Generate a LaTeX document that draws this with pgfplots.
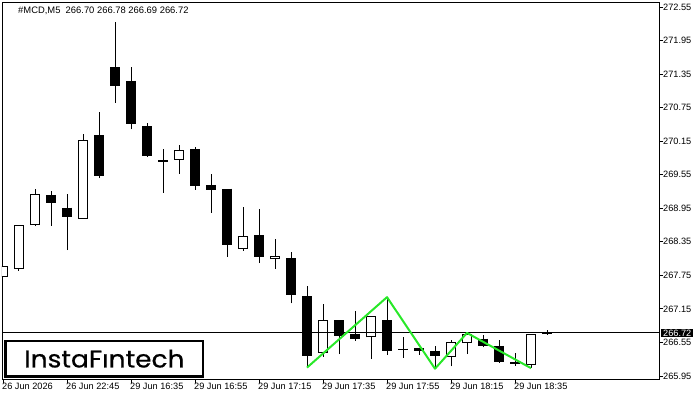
\documentclass[border=0pt]{standalone}
\usepackage{pgfplots}
\pgfplotsset{compat=1.18}
\usepackage{pgfplotstable}
\usepackage{fontspec}
\setmainfont{Liberation Sans}
\newfontfamily\logofont{Poppins}[FakeStretch=1.1, FakeBold=0.6]
\definecolor{patgreen}{RGB}{40,232,40}

\pgfplotstableread{
x o h l c
0 267.72 267.92 267.58 267.92
1 267.86 268.65 267.83 268.65
2 268.65 269.30 268.63 269.20
3 269.19 269.26 268.64 269.04
4 268.96 269.21 268.20 268.80
5 268.76 270.28 268.76 270.17
6 270.26 270.67 269.49 269.53
7 271.47 272.28 270.84 271.14
8 271.23 271.48 270.36 270.46
9 270.42 270.48 269.87 269.89
10 269.81 270.01 269.23 269.78
11 269.82 270.08 269.57 269.99
12 270.01 270.05 269.28 269.35
13 269.37 269.57 268.87 269.27
14 269.30 269.30 268.08 268.29
15 268.23 268.97 268.19 268.45
16 268.47 268.94 267.97 268.08
17 268.04 268.40 267.87 268.09
18 268.06 268.16 267.25 267.39
19 267.38 267.56 266.10 266.31
20 266.37 267.24 266.29 266.95
21 266.95 266.95 266.34 266.67
22 266.71 267.11 266.58 266.62
23 266.64 267.02 266.25 267.02
24 266.95 267.37 266.33 266.39
25 266.44 266.64 266.28 266.42
26 266.45 266.45 266.33 266.40
27 266.40 266.49 266.08 266.30
28 266.29 266.59 266.12 266.55
29 266.54 266.72 266.34 266.70
30 266.62 266.68 266.46 266.49
31 266.49 266.59 266.19 266.20
32 266.20 266.37 266.13 266.16
33 266.14 266.70 266.09 266.70
34 266.70 266.78 266.69 266.72
}\candles

\begin{document}
\begin{tikzpicture}
\begin{axis}[
  at={(2pt,21pt)}, anchor=south west,
  scale only axis, width=657pt, height=377pt,
  xmin=-0.0625, xmax=41, ymin=265.896, ymax=272.64,
  axis line style={line width=0.9pt},
  xtick={0,4,...,32},
  xticklabels={26 Jun 2026,26 Jun 22:45,29 Jun 16:35,29 Jun 16:55,29 Jun 17:15,29 Jun 17:35,29 Jun 17:55,29 Jun 18:15,29 Jun 18:35},
  ytick={265.95,266.55,267.15,267.75,268.35,268.95,269.55,270.15,270.75,271.35,271.95,272.55},
  yticklabels={265.95,266.55,267.15,267.75,268.35,268.95,269.55,270.15,270.75,271.35,271.95,272.55},
  xtick pos=bottom, ytick pos=right, yticklabel pos=right,
  tick align=outside, major tick length=4pt,
  tick style={black, line width=0.9pt},
  ticklabel style={font=\fontsize{9.2}{10}\selectfont},
  xticklabel style={anchor=north west, inner sep=0pt, xshift=-1pt},
  yticklabel style={anchor=west, inner sep=0pt},
]
% wicks
\addplot[draw=none, mark=none, forget plot,
  error bars/.cd, y dir=plus, y explicit, error mark=none,
  error bar style={draw=black, line width=1pt}]
  table[x=x, y=l, y error plus expr={\thisrow{h}-\thisrow{l}}] {\candles};
% bearish bodies (and tiny bodies)
\addplot[draw=none, mark=none, forget plot,
  error bars/.cd, y dir=minus, y explicit, error mark=none,
  error bar style={draw=black, line width=10pt}]
  table[x=x, y=o, y error minus expr={max(\thisrow{o}-\thisrow{c},0)}] {\candles};
% bullish bodies: outline
\addplot[draw=none, mark=none, forget plot,
  error bars/.cd, y dir=plus, y explicit, error mark=none,
  error bar style={draw=black, line width=10pt}]
  table[x=x, y=o, y error plus expr={max(\thisrow{c}-\thisrow{o},0)}] {\candles};
% bullish bodies: white fill
\addplot[draw=none, mark=none, forget plot, unbounded coords=discard,
  error bars/.cd, y dir=plus, y explicit, error mark=none,
  error bar style={draw=white, line width=8pt, shorten <=1pt, shorten >=1pt}]
  table[x=x, y expr={(\thisrow{c}-\thisrow{o}>0.03) ? \thisrow{o} : nan},
        y error plus expr={\thisrow{c}-\thisrow{o}}] {\candles};
% current price line
\addplot[black, line width=0.9pt, forget plot] coordinates {(-0.0625,266.72) (41,266.72)};
% pattern line
\addplot[patgreen, line width=2pt, line join=round] coordinates {
  (19,266.10) (24,267.36) (27,266.08) (29,266.72) (33,266.09)};
\end{axis}
\node[anchor=west, inner sep=0pt, font=\fontsize{9.4}{10}\selectfont] at (18pt,389pt)
  {\#MCD,M5\ \ 266.70 266.78 266.69 266.72};
\node[fill=black, text=white, anchor=west, inner xsep=2pt, inner ysep=0.6pt,
  font=\fontsize{9.2}{10}\selectfont] at (661pt,66.7pt) {266.72};
\node[draw=black, line width=2.7pt, fill=white, minimum width=197.5pt, minimum height=35.5pt,
  anchor=south west, inner sep=0pt] at (4.25pt,22.25pt)
  {\logofont\fontsize{24}{24}\selectfont InstaFıntech};
\pgfresetboundingbox
\path (0pt,0pt) rectangle (700pt,400pt);
\end{tikzpicture}
\end{document}
